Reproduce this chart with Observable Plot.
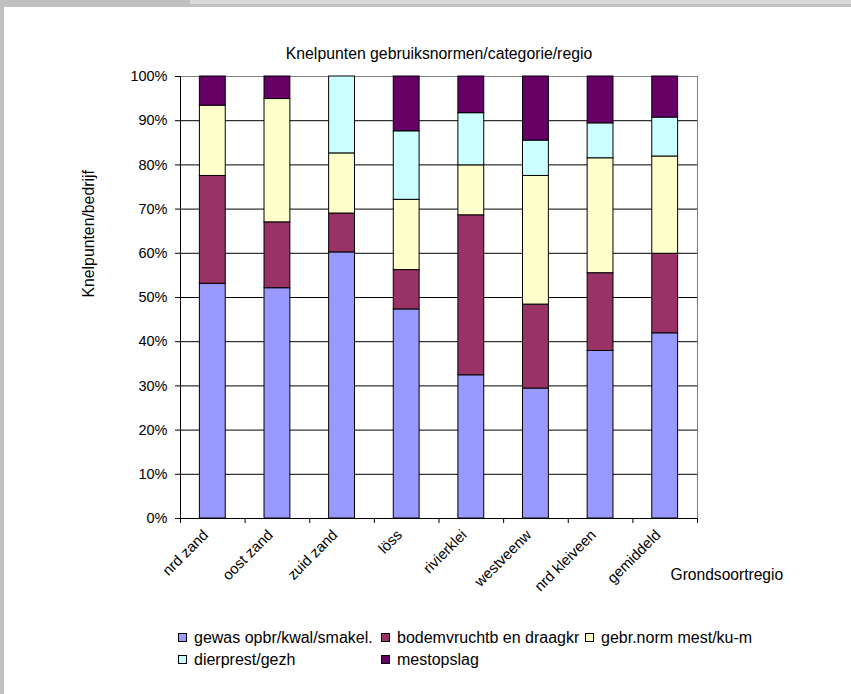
<!DOCTYPE html>
<html>
<head>
<meta charset="utf-8">
<script src="https://cdn.jsdelivr.net/npm/d3@7"></script>
<script src="https://cdn.jsdelivr.net/npm/@observablehq/plot@0.6"></script>
<style>
  html, body { margin: 0; padding: 0; background: #fff; }
  #page {
    position: relative; width: 851px; height: 694px; overflow: hidden;
    font-family: "Liberation Sans", Arial, sans-serif;
    color: #000;
  }
  #topbar { position: absolute; left: 0; top: 0; width: 851px; height: 7px; background: #c0c0c0; }
  #topbar2 { position: absolute; left: 190px; top: 0; width: 661px; height: 4px; background: #d9d9d9; }
  #leftbar { position: absolute; left: 0; top: 0; width: 4px; height: 694px; background: #c0c0c0; }
  #chart { position: absolute; left: 0; top: 0; }
  #legend {
    position: absolute; left: 178px; top: 627px;
    display: grid; grid-template-columns: 203px 204px auto;
    font-size: 16px; line-height: 22px; white-space: nowrap;
  }
  .item { display: flex; align-items: center; }
  .sw { width: 7px; height: 7px; border: 1px solid #000; margin-right: 7px; flex: none; position: relative; top: -1px; }
</style>
</head>
<body>
<div id="page">
  <div id="chart"></div>
  <div id="topbar"></div>
  <div id="topbar2"></div>
  <div id="leftbar"></div>
  <div id="legend"></div>
</div>
<script>
// Regions (x categories)
const regions = ["nrd zand", "oost zand", "zuid zand", "löss", "rivierklei", "westveenw", "nrd kleiveen", "gemiddeld"];

// Categories of bottlenecks, bottom to top in each stack
const seriesNames = ["gewas opbr/kwal/smakel.", "bodemvruchtb en draagkr", "gebr.norm mest/ku-m", "dierprest/gezh", "mestopslag"];
const seriesColors = ["#9999FF", "#993366", "#FFFFCC", "#CCFFFF", "#660066"];

// Share per region (%)
const gewas      = [53.1, 52.1, 60.2, 47.3, 32.4, 29.4, 37.9, 41.9];
const bodem      = [24.4, 14.9,  8.8,  8.9, 36.2, 19.0, 17.6, 18.0];
const gebrNorm   = [15.9, 27.9, 13.6, 15.9, 11.3, 29.1, 26.0, 22.0];
const dierprest  = [ 0.0,  0.0, 17.4, 15.5, 11.8,  8.0,  7.9,  8.8];
const mestopslag = [ 6.6,  5.1,  0.0, 12.4,  8.3, 14.5, 10.6,  9.3];

const yTicks = [0, 10, 20, 30, 40, 50, 60, 70, 80, 90, 100];
const title = "Knelpunten gebruiksnormen/categorie/regio";
const yTitle = "Knelpunten/bedrijf";
const xTitle = "Grondsoortregio";

const seriesValues = [gewas, bodem, gebrNorm, dierprest, mestopslag];
const rows = [];
seriesNames.forEach((s, si) => {
  regions.forEach((r, ri) => {
    const v = seriesValues[si][ri];
    if (v > 0) rows.push({region: r, series: s, value: v});
  });
});

const W = 851, H = 610;
const mL = 180, mR = 154, mT = 76, mB = 92;
const padInner = 0.6, padOuter = 0.3;
const step = (W - mL - mR) / (regions.length - padInner + 2 * padOuter);

const chart = Plot.plot({
  width: W,
  height: H,
  marginLeft: mL,
  marginRight: mR,
  marginTop: mT,
  marginBottom: mB,
  style: {
    fontFamily: '"Liberation Sans", Arial, sans-serif',
    fontSize: "15px",
    color: "#000",
    background: "transparent",
    overflow: "visible"
  },
  x: {domain: regions, paddingInner: padInner, paddingOuter: padOuter, round: false},
  y: {domain: [0, 100]},
  color: {domain: seriesNames, range: seriesColors},
  marks: [
    Plot.frame({stroke: "#808080"}),
    Plot.ruleY(yTicks.filter(d => d > 0 && d < 100), {stroke: "#000"}),
    Plot.barY(rows, {
      x: "region", y: "value", fill: "series", stroke: "#000", strokeWidth: 1,
      order: seriesNames
    }),
    // axes lines
    Plot.ruleY([0], {stroke: "#000"}),
    Plot.ruleX([regions[0]], {dx: -step / 2, stroke: "#000"}),
    // category boundary ticks below the x axis
    Plot.ruleX(regions, {x: d => d, y1: 0, y2: 0, insetBottom: -5, dx: -step / 2, stroke: "#000"}),
    Plot.ruleX([regions[regions.length - 1]], {x: d => d, y1: 0, y2: 0, insetBottom: -5, dx: step / 2, stroke: "#000"}),
    Plot.axisY({ticks: yTicks, tickFormat: d => d + "%", tickSize: 5, tickPadding: 8, label: null, fontSize: 14.5}),
    Plot.axisX({tickSize: 0, tickRotate: -45, tickPadding: 14, dx: -7, label: null, fontSize: 14.8}),
    Plot.text([title], {text: d => d, frameAnchor: "top", dy: -29, fontSize: 15.8}),
    Plot.text([yTitle], {text: d => d, frameAnchor: "left", rotate: -90, dx: -92, fontSize: 15.8}),
    Plot.text([xTitle], {text: d => d, frameAnchor: "bottom-right", textAnchor: "start", dx: -27, dy: 61, fontSize: 15.6})
  ]
});
document.getElementById("chart").appendChild(chart);

// Legend: row-major order, three columns
const legend = document.getElementById("legend");
seriesNames.forEach((s, i) => {
  const item = document.createElement("div");
  item.className = "item";
  const sw = document.createElement("span");
  sw.className = "sw";
  sw.style.background = seriesColors[i];
  const label = document.createElement("span");
  label.textContent = s;
  item.appendChild(sw);
  item.appendChild(label);
  legend.appendChild(item);
});
</script>
</body>
</html>
